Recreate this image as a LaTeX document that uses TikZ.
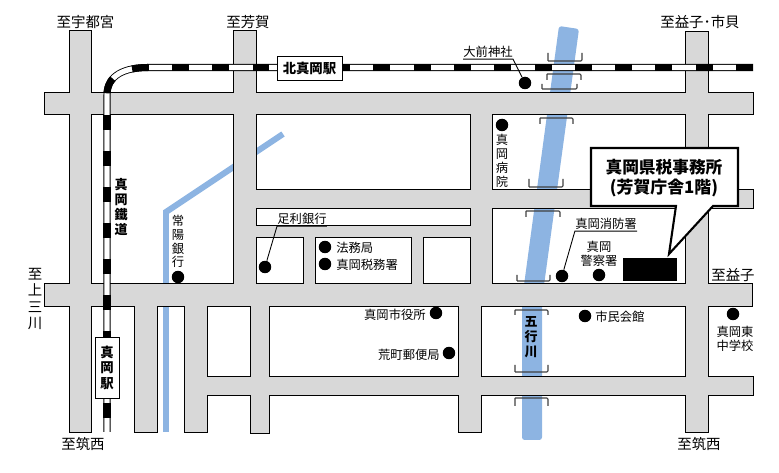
\documentclass[tikz,border=0pt]{standalone}
\usepackage{fontspec}
\setmainfont{Noto Sans CJK JP}

\definecolor{roadgray}{HTML}{D8D8D8}
\definecolor{riverblue}{HTML}{8DB4E2}
\definecolor{bridgegray}{HTML}{404040}

\tikzset{
  smalltext/.style={inner sep=0pt, align=center, font=\fontsize{7}{7.9}\selectfont},
  leadtext/.style={inner xsep=0pt, inner ysep=0.6pt, font=\fontsize{7}{7.9}\selectfont},
  tiedtext/.style={inner sep=0pt, align=center, font=\fontsize{8.2}{9.35}\selectfont},
  railtext/.style={inner sep=0pt, align=center, font=\fontsize{7.4}{8.7}\selectfont\bfseries},
  stationbox/.style={draw, fill=white, line width=0.5pt, align=center, inner sep=0pt,
    font=\fontsize{7.6}{8.8}\selectfont\bfseries},
  placedot/.style={circle, fill=black, inner sep=0pt, minimum size=0.25cm},
  leadline/.style={line width=0.5pt},
  bridgeline/.style={draw=bridgegray, line width=0.6pt, rounded corners=0.6pt},
}

% x0/y0/x1/y1 of every road
\newcommand{\roadlist}{45/93/753/114, 45/284/752/306, 234/190/753/208, 234/226/492/237,
  70/31/91/432, 234/31/256/306, 135/306/157/432, 185/306/207/432, 251/306/269/433,
  304/226/315/285, 412/226/423/285, 471/93/492/306, 459/306/481/432,
  686/32/708/432, 185/377/753/395}

\begin{document}
\begin{tikzpicture}[x=0.02cm, y=-0.02cm]
    \useasboundingbox (0,0) rectangle (779,473);
    % rivers
    \fill[riverblue, rounded corners=1.5pt] (559,26) -- (579,29) -- (542,300) -- (542,440) -- (522,440) -- (522,300) -- cycle;
    \draw[riverblue, line width=3.4pt] (283,134) -- (166,212) -- (166,432);
    % roads
    \foreach \xa/\ya/\xb/\yb in \roadlist
      \draw[line width=0.95pt] (\xa,\ya) rectangle (\xb,\yb);
    \foreach \xa/\ya/\xb/\yb in \roadlist
      \fill[roadgray] (\xa,\ya) rectangle (\xb,\yb);
    % railway
    \draw[line width=4pt] (753,67.5) -- (148,67.5) .. controls (125,67.5) and (107,75) .. (107,95) -- (107,432);
    \draw[white, line width=3pt] (753,67.5) -- (148,67.5) .. controls (125,67.5) and (107,75) .. (107,95) -- (107,432);
    \draw[line width=4pt, dash pattern=on 0.34cm off 0.466cm] (753,67.5) -- (148,67.5);
    \draw[line width=4pt, dash pattern=on 0.32cm off 0.44cm] (148,67.5) .. controls (125,67.5) and (107,75) .. (107,95);
    \draw[line width=4pt, dash pattern=on 0.3cm off 0.42cm] (107,115) -- (107,432);
    % bridges
    \foreach \xa/\xb/\ya/\yb in {548/582/53/61, 547/581/80/74, 542/577/84/89, 540/573/124/118,
      529/563/179/187, 526/560/217/211, 517/550/275/281, 515/548/315/310, 515/548/365/372, 515/548/406/398}
      \draw[bridgeline] (\xa,\yb) -- (\xa,\ya) (\xa,\yb) -- (\xb,\yb) -- (\xb,\ya);
    % stations
    \node (kitamoka) at (309.5,68) [stationbox, minimum width=1.3cm, minimum height=0.48cm] {北真岡駅};
    \node (moka) at (107,367.5) [stationbox, minimum width=0.48cm, minimum height=1.22cm] {真\\岡\\駅};
    \node (tetsudo) at (121,207) [railtext] {真\\岡\\鐵\\道};
    \node (gogyo) at (531,337) [railtext] {五\\行\\川};
    % directions
    \node (utsunomiya) at (85.5,22) [tiedtext] {至宇都宮};
    \node (haga) at (248,22) [tiedtext] {至芳賀};
    \node (ichikai) at (700,22) [tiedtext] {至益子･市貝};
    \node (mashiko) at (733,275) [tiedtext] {至益子};
    \node (kaminokawa) at (35,299) [tiedtext] {至\\上\\三\\川};
    \node (chikuseia) at (83,444) [tiedtext] {至筑西};
    \node (chikuseib) at (699,444) [tiedtext] {至筑西};
    % places on the map
    \node (omaedot) at (525,83) [placedot] {};
    \node (omae) at (488,52) [leadtext] {大前神社};
    \draw[leadline] (omae.south west) -- (omae.south east) -- (omaedot);
    \node (hospitaldot) at (502,125) [placedot] {};
    \node (hospital) at (502,161) [smalltext] {真\\岡\\病\\院};
    \node (ashikagadot) at (265,267) [placedot] {};
    \node (ashikaga) at (302,219) [leadtext] {足利銀行};
    \draw[leadline] (ashikaga.south east) -- (ashikaga.south west) -- (ashikagadot);
    \node (joyodot) at (178,277) [placedot] {};
    \node (joyo) at (178,241.5) [smalltext] {常\\陽\\銀\\行};
    \node (homudot) at (325,247) [placedot] {};
    \node (homu) at (336,248) [smalltext, anchor=west] {法務局};
    \node (zeimudot) at (325,264) [placedot] {};
    \node (zeimu) at (336,265) [smalltext, anchor=west] {真岡税務署};
    \node (shobodot) at (562,276) [placedot] {};
    \node (shobo) at (606,224) [leadtext] {真岡消防署};
    \draw[leadline] (shobo.south east) -- (shobo.south west) -- (shobodot);
    \node (keisatsudot) at (599,275) [placedot] {};
    \node (keisatsu) at (599,253.5) [smalltext] {真岡\\警察署};
    \node (shiyakushodot) at (436,313) [placedot] {};
    \node (shiyakusho) at (426,315) [smalltext, anchor=east] {真岡市役所};
    \node (yubindot) at (449,353) [placedot] {};
    \node (yubin) at (440,355) [smalltext, anchor=east] {荒町郵便局};
    \node (shimindot) at (585,316) [placedot] {};
    \node (shimin) at (595,317) [smalltext, anchor=west] {市民会館};
    \node (chugakudot) at (733,314) [placedot] {};
    \node (chugaku) at (735,338.5) [smalltext] {真岡東\\中学校};
    % tax office
    \node (office) at (650,269.5) [fill=black, inner sep=0pt, minimum width=1.08cm, minimum height=0.46cm] {};
    \draw[fill=white, line width=1.2pt] (591,148) -- (738,148) -- (738,206) -- (713,206) -- (669,254) -- (676,206) -- (591,206) -- cycle;
    \node (officea) at (664,167) [inner sep=0pt, font=\fontsize{9.5}{11}\selectfont\bfseries] {真岡県税事務所};
    \node (officeb) at (664,188) [inner sep=0pt, font=\fontsize{9.6}{11}\selectfont\bfseries] {(芳賀庁舎1階)};
  \end{tikzpicture}
\end{document}
